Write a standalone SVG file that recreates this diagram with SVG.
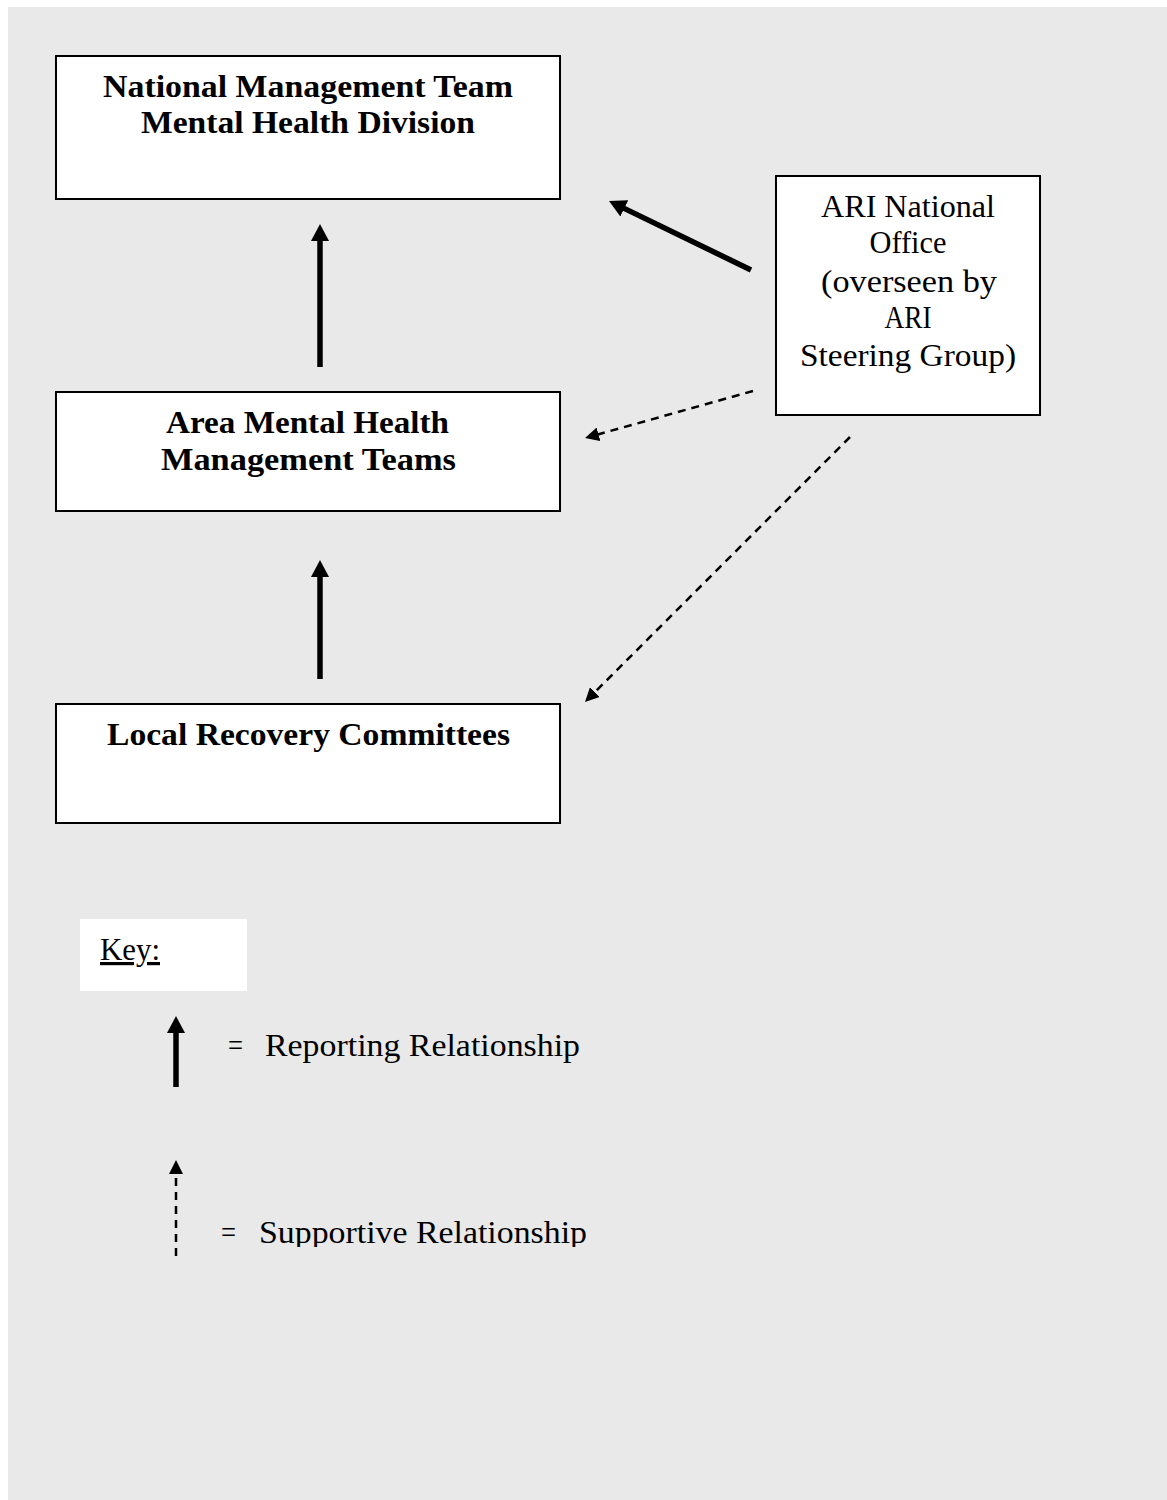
<svg xmlns="http://www.w3.org/2000/svg" width="1167" height="1500" viewBox="0 0 1167 1500">
<style>
.box{fill:#ffffff;stroke:#000000;stroke-width:2}
.tb{font-family:"Liberation Serif","DejaVu Serif",serif;font-weight:bold;font-size:31px;fill:#000;text-anchor:middle}
.tn{font-family:"Liberation Serif","DejaVu Serif",serif;font-size:32px;fill:#000;text-anchor:middle}
.tk{font-family:"Liberation Serif","DejaVu Serif",serif;font-size:32px;fill:#000}
.solid{stroke:#000;stroke-width:5.5;fill:none}
.dash{stroke:#000;stroke-width:2.5;fill:none;stroke-dasharray:8 6}
</style>
<defs>
<marker id="hs" markerUnits="userSpaceOnUse" markerWidth="18" markerHeight="18" refX="3" refY="9" orient="auto" viewBox="0 0 18 18">
<path d="M0,0 L17,9 L0,18 z" fill="#000"/>
</marker>
<marker id="hd" markerUnits="userSpaceOnUse" markerWidth="14" markerHeight="14" refX="2" refY="7" orient="auto" viewBox="0 0 14 14">
<path d="M0,0 L14,7 L0,14 z" fill="#000"/>
</marker>
<clipPath id="clipSup"><rect x="0" y="1000" width="1167" height="247"/></clipPath>
</defs>
<rect x="8" y="7" width="1159" height="1493" fill="#e9e9e9"/>

<g id="node-national">
<rect class="box" x="56" y="56" width="504" height="143"/>
<text class="tb" x="308" y="97" textLength="410" lengthAdjust="spacingAndGlyphs">National Management Team</text>
<text class="tb" x="308" y="133" textLength="334" lengthAdjust="spacingAndGlyphs">Mental Health Division</text>
</g>

<g id="node-ari">
<rect class="box" x="776" y="176" width="264" height="239"/>
<text class="tn" x="908" y="217" textLength="174" lengthAdjust="spacingAndGlyphs">ARI National</text>
<text class="tn" x="908" y="253" textLength="77" lengthAdjust="spacingAndGlyphs">Office</text>
<text class="tn" x="909" y="292" textLength="176" lengthAdjust="spacingAndGlyphs">(overseen by</text>
<text class="tn" x="908" y="328" textLength="47" lengthAdjust="spacingAndGlyphs">ARI</text>
<text class="tn" x="908" y="366" textLength="216" lengthAdjust="spacingAndGlyphs">Steering Group)</text>
</g>

<g id="node-area">
<rect class="box" x="56" y="392" width="504" height="119"/>
<text class="tb" x="307.5" y="433" textLength="283" lengthAdjust="spacingAndGlyphs">Area Mental Health</text>
<text class="tb" x="308.5" y="470" textLength="295" lengthAdjust="spacingAndGlyphs">Management Teams</text>
</g>

<g id="node-local">
<rect class="box" x="56" y="704" width="504" height="119"/>
<text class="tb" x="308.5" y="745" textLength="403" lengthAdjust="spacingAndGlyphs">Local Recovery Committees</text>
</g>

<g id="connectors">
<line class="solid" x1="320" y1="367" x2="320" y2="238" marker-end="url(#hs)"/>
<line class="solid" x1="320" y1="679" x2="320" y2="574" marker-end="url(#hs)"/>
<line class="solid" x1="751" y1="270" x2="621.6" y2="207.1" marker-end="url(#hs)"/>
<line class="dash" x1="753" y1="391" x2="596.6" y2="434.8" marker-end="url(#hd)"/>
<line class="dash" x1="850" y1="437" x2="593.5" y2="693.5" marker-end="url(#hd)"/>
</g>

<g id="key">
<rect x="80" y="919" width="167" height="72" fill="#ffffff"/>
<text class="tk" x="100" y="960" textLength="60" lengthAdjust="spacingAndGlyphs" text-decoration="underline">Key:</text>
<line class="solid" x1="176" y1="1087" x2="176" y2="1030" marker-end="url(#hs)"/>
<text class="tk" x="228" y="1056" textLength="15" lengthAdjust="spacingAndGlyphs">=</text>
<text class="tk" x="265" y="1056" textLength="315" lengthAdjust="spacingAndGlyphs">Reporting Relationship</text>
<line class="dash" x1="176" y1="1256" x2="176" y2="1172" marker-end="url(#hd)"/>
<g clip-path="url(#clipSup)">
<text class="tk" x="221" y="1243" textLength="15" lengthAdjust="spacingAndGlyphs">=</text>
<text class="tk" x="259" y="1243" textLength="328" lengthAdjust="spacingAndGlyphs">Supportive Relationship</text>
</g>
</g>
</svg>
